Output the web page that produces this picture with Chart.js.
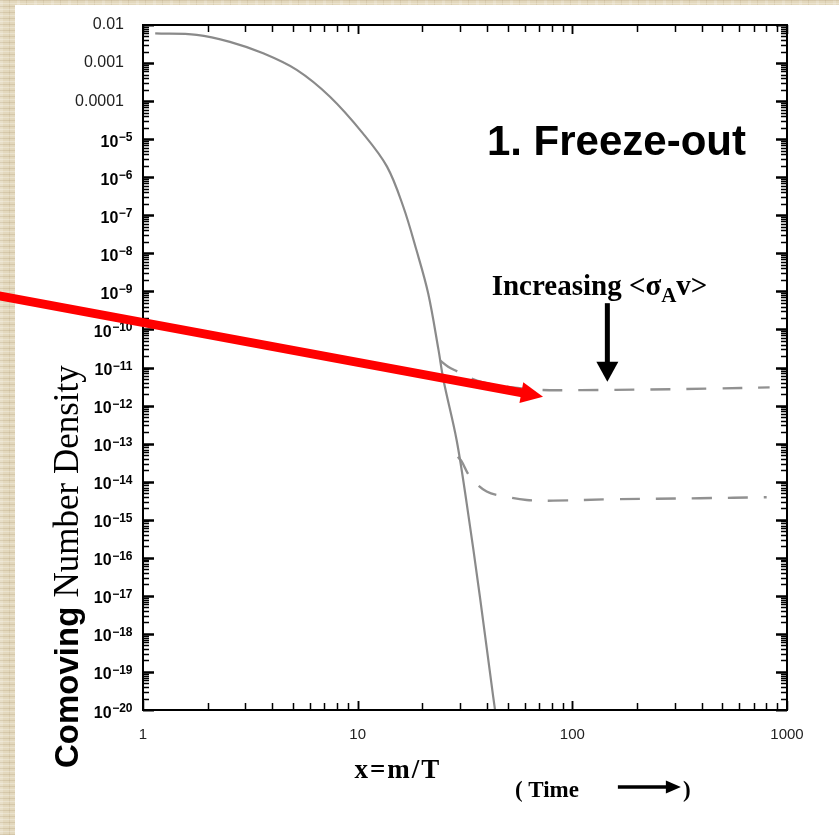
<!DOCTYPE html>
<html><head><meta charset="utf-8">
<script src="https://cdn.jsdelivr.net/npm/chart.js@4.4.0/dist/chart.umd.min.js"></script>
<style>
html,body{margin:0;padding:0;width:839px;height:835px;overflow:hidden;}
body{background-color:#e3d8bd;
 background-image:
  repeating-linear-gradient(0deg, rgba(150,125,80,0.18) 0 1px, rgba(255,255,255,0) 1px 3px, rgba(255,255,255,0.25) 3px 4px, rgba(255,255,255,0) 4px 6px),
  repeating-linear-gradient(90deg, rgba(255,255,255,0.18) 0 3px, rgba(0,0,0,0) 3px 9px, rgba(140,115,70,0.12) 9px 10px, rgba(0,0,0,0) 10px 17px);}
#panel{position:absolute;left:15px;top:5px;width:824px;height:830px;background:#fff;}
#wrap{position:absolute;left:0;top:0;width:839px;height:835px;}
</style></head>
<body>
<div id="panel"></div>
<div id="wrap"><canvas id="c" width="839" height="835"></canvas></div>
<script>
// ---- data ----
const eqX = [1.14, 1.78, 2.54, 3.63, 5.2, 7.43, 10.6, 13.7, 16.3, 18.8, 21.3, 23.8, 25.1, 28.9, 32.2, 37.1, 42.8, 45];
const eqY = [6.0e-3, 5.5e-3, 3.6e-3, 1.8e-3, 6.6e-4, 1.3e-4, 1.4e-5, 1.9e-6, 1.7e-7, 1.2e-8, 8.9e-10, 2.9e-11, 4.7e-12, 1.25e-13, 2.7e-15, 9.5e-18, 2.2e-20, 3e-21];

const upX = [24.3, 26.4, 29.5, 32.2, 38, 46, 68, 110, 230, 450, 830];
const upY = [1.5e-11, 1.05e-11, 7.6e-12, 5.75e-12, 4.1e-12, 3.3e-12, 2.6e-12, 2.55e-12, 2.65e-12, 2.8e-12, 3.0e-12];

const loX = [29.3, 30.5, 33.4, 39.9, 49.5, 61.3, 81.5, 155, 393, 804];
const loY = [4.5e-14, 3.4e-14, 1.35e-14, 5.5e-15, 4.0e-15, 3.3e-15, 3.17e-15, 3.46e-15, 3.67e-15, 3.9e-15];

const xTickValues = [1, 10, 100, 1000];
const xTickLabels = ['1', '10', '100', '1000'];
const yTickValues = [1e-2,1e-3,1e-4,1e-5,1e-6,1e-7,1e-8,1e-9,1e-10,1e-11,1e-12,1e-13,1e-14,1e-15,1e-16,1e-17,1e-18,1e-19,1e-20];
const yTickLabels = ['0.01','0.001','0.0001','10','10','10','10','10','10','10','10','10','10','10','10','10','10','10','10'];
const yTickExponents = ['','','','−5','−6','−7','−8','−9','−10','−11','−12','−13','−14','−15','−16','−17','−18','−19','−20'];

const SANS = '"Liberation Sans", Arial, Helvetica, sans-serif';
const SERIF = '"Liberation Serif", "Times New Roman", Times, serif';

const pts = (xs, ys) => xs.map((x, i) => ({x: x, y: ys[i]}));

const framePlugin = {
  id: 'frame',
  afterDraw(chart) {
    const c = chart.ctx, a = chart.chartArea, sx = chart.scales.x, sy = chart.scales.y;
    c.save();
    c.strokeStyle = '#000';
    c.lineCap = 'butt';
    for (let d = 0; d < 3; d++) {
      for (let m = 1; m <= 10; m++) {
        const v = m * Math.pow(10, d);
        const px = Math.round(sx.getPixelForValue(v)) + 0.5;
        const major = (m === 1 || m === 10);
        const len = major ? 9 : 7;
        c.lineWidth = 1.5;
        c.beginPath();
        c.moveTo(px, a.bottom); c.lineTo(px, a.bottom - len);
        c.moveTo(px, a.top); c.lineTo(px, a.top + len);
        c.stroke();
      }
    }
    for (let e = -20; e < -2; e++) {
      for (let m = 1; m <= 10; m++) {
        const v = m * Math.pow(10, e);
        const py = Math.round(sy.getPixelForValue(v)) + 0.5;
        const major = (m === 1 || m === 10);
        const len = major ? 11 : 6;
        c.lineWidth = major ? 2 : 1.5;
        c.beginPath();
        c.moveTo(a.left, py); c.lineTo(a.left + len, py);
        c.moveTo(a.right, py); c.lineTo(a.right - len, py);
        c.stroke();
      }
    }
    c.lineWidth = 2;
    c.strokeRect(a.left, a.top, a.right - a.left, a.bottom - a.top);

    c.fillStyle = '#000';
    c.textAlign = 'left';
    c.textBaseline = 'alphabetic';
    const rightEdge = a.left - 11;
    yTickValues.forEach((v, i) => {
      const ex = yTickExponents[i];
      if (!ex) return;
      const py = sy.getPixelForValue(v);
      c.font = 'bold 12px ' + SANS;
      const we = c.measureText(ex).width;
      c.font = 'bold 16px ' + SANS;
      const wb = c.measureText(yTickLabels[i]).width;
      const x0 = rightEdge - we - wb;
      c.fillText(yTickLabels[i], x0, py + 7.5);
      c.font = 'bold 12px ' + SANS;
      c.fillText(ex, x0 + wb + 0.5, py + 2);
    });
    c.restore();
  }
};

function arrow(c, x0, y0, x1, y1, shaftW, headL, headW, color) {
  const ang = Math.atan2(y1 - y0, x1 - x0);
  const bx = x1 - headL * Math.cos(ang), by = y1 - headL * Math.sin(ang);
  c.save();
  c.strokeStyle = color; c.fillStyle = color;
  c.lineWidth = shaftW; c.lineCap = 'butt';
  c.beginPath(); c.moveTo(x0, y0); c.lineTo(bx + Math.cos(ang), by + Math.sin(ang)); c.stroke();
  const nx = -Math.sin(ang) * headW / 2, ny = Math.cos(ang) * headW / 2;
  c.beginPath();
  c.moveTo(x1, y1); c.lineTo(bx + nx, by + ny); c.lineTo(bx - nx, by - ny); c.closePath(); c.fill();
  c.restore();
}

const annotPlugin = {
  id: 'annot',
  afterDraw(chart) {
    const c = chart.ctx, a = chart.chartArea, sx = chart.scales.x, sy = chart.scales.y;
    const X = v => sx.getPixelForValue(v), Y = v => sy.getPixelForValue(v);
    c.save();
    c.fillStyle = '#000';
    c.textBaseline = 'alphabetic';

    c.font = 'bold 42px ' + SANS;
    c.textAlign = 'left';
    c.fillText('1. Freeze-out', X(40), Y(3.8e-6));

    let tx = X(42.1), ty = Y(8.05e-10);
    c.font = 'bold 29px ' + SERIF;
    const p1 = 'Increasing <σ';
    c.fillText(p1, tx, ty); tx += c.measureText(p1).width;
    c.font = 'bold 21px ' + SERIF;
    c.fillText('A', tx, ty + 7); tx += c.measureText('A').width;
    c.font = 'bold 29px ' + SERIF;
    c.fillText('v>', tx, ty);

    arrow(c, X(145.6), Y(4.9e-10), X(145.6), Y(4.25e-12), 5, 20, 22, '#000');

    c.font = 'bold 27px ' + SERIF;
    c.textAlign = 'center';
    try { c.letterSpacing = '2px'; } catch (e) {}
    c.fillText('x=m/T', X(15.4), a.bottom + 68);
    try { c.letterSpacing = '0px'; } catch (e) {}

    c.textAlign = 'left';
    c.font = 'bold 23px ' + SERIF;
    const tx0 = X(54);
    c.fillText('( Time', tx0, a.bottom + 87);
    arrow(c, tx0 + 103, a.bottom + 77, tx0 + 166, a.bottom + 77, 3.5, 15, 13, '#000');
    c.fillText(')', tx0 + 168, a.bottom + 87);

    c.save();
    c.translate(78, a.bottom + 58);
    c.rotate(-Math.PI / 2);
    c.textAlign = 'left';
    c.font = 'bold 33px ' + SANS;
    const w1 = c.measureText('Comoving ').width;
    c.fillText('Comoving ', 0, 0);
    c.font = '35px ' + SERIF;
    c.fillText('Number Density', w1, 0);
    c.restore();

    arrow(c, X(0.1), Y(1.69e-9), X(73), Y(1.71e-12), 9, 22, 21, '#ff0000');
    c.restore();
  }
};

new Chart(document.getElementById('c'), {
  type: 'line',
  data: {
    datasets: [
      { label: 'equilibrium', data: pts(eqX, eqY), borderColor: '#8a8a8a', borderWidth: 2.2,
        pointRadius: 0, tension: 0.35, fill: false },
      { label: 'smaller cross-section', data: pts(upX, upY), borderColor: '#919191', borderWidth: 2.4,
        borderDash: [20, 16], pointRadius: 0, tension: 0.35, fill: false },
      { label: 'larger cross-section', data: pts(loX, loY), borderColor: '#919191', borderWidth: 2.4,
        borderDash: [20, 16], pointRadius: 0, tension: 0.35, fill: false }
    ]
  },
  options: {
    responsive: false, animation: false, devicePixelRatio: 1,
    layout: { padding: { left: 0, top: 25, right: 52, bottom: 0 } },
    plugins: { legend: { display: false }, tooltip: { enabled: false }, title: { display: false } },
    scales: {
      x: {
        type: 'logarithmic', min: 1, max: 1000, position: 'bottom',
        afterFit: s => { s.height = 125; s.paddingLeft = 0; s.paddingRight = 0; },
        afterBuildTicks: s => { s.ticks = xTickValues.map(v => ({ value: v })); },
        grid: { display: false, drawTicks: false }, border: { display: false },
        ticks: { autoSkip: false, maxRotation: 0, padding: 16, color: '#222',
          font: { family: SANS, size: 15 },
          callback: (v, i) => xTickLabels[i] }
      },
      y: {
        type: 'logarithmic', min: 1e-20, max: 1e-2, position: 'left',
        afterFit: s => { s.width = 143; s.paddingTop = 0; s.paddingBottom = 0; },
        afterBuildTicks: s => { s.ticks = yTickValues.slice().reverse().map(v => ({ value: v })); },
        grid: { display: false, drawTicks: false }, border: { display: false },
        ticks: { autoSkip: false, padding: 19, color: '#222',
          font: { family: SANS, size: 16 },
          callback: (v) => { const i = yTickValues.indexOf(v); return yTickExponents[i] ? '' : yTickLabels[i]; } }
      }
    }
  },
  plugins: [framePlugin, annotPlugin]
});
</script>
</body></html>
